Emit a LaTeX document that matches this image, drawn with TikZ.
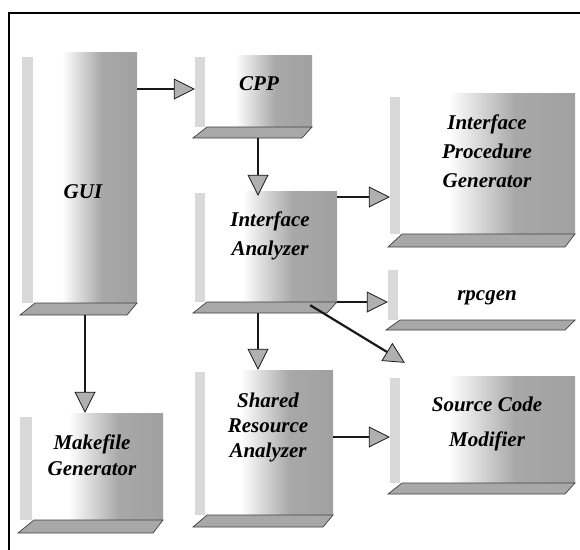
\documentclass[tikz,border=0pt]{standalone}
\usepackage{fontspec}
\setmainfont{Liberation Serif}
\usetikzlibrary{arrows.meta,fit,calc}
\pgfdeclarehorizontalshading{faceshade}{100bp}{color(0bp)=(white); color(25bp)=(white); color(39bp)=(white); color(58bp)=(gray!68); color(75bp)=(gray!74); color(100bp)=(gray!74)}
\pgfdeclarehorizontalshading{whiteshade}{100bp}{color(0bp)=(white); color(100bp)=(white)}
% name, x1, xs, x2, ytop, ystrip, yslabtop, yslabbot, shading
\newcommand\tdbox[9]{%
  \fill[stripfill] (#2,#6) rectangle (#3,#7);
  \shade[shading=#9] (#3,#5) rectangle (#4,#7);
  \filldraw[slabfill] (#3+2,#7) -- (#4,#7) -- (#4-10,#8) -- (#2-2,#8) -- cycle;
  \node[fit={(#2,#5)(#4,#8)}, inner sep=0pt] (#1) {};
}
\tikzset{
  stripfill/.style={fill=gray!30},
  slabfill/.style={fill=gray!68, draw=black!75, line width=0.7pt},
  lbl/.style={font=\fontsize{21}{29}\selectfont\bfseries\itshape, align=center, text=black, inner sep=0pt},
  arr/.style={line width=2.2pt, draw=black!90, -{Triangle[length=21pt,width=21pt,fill=gray!62,line width=0.8pt]}},
}
\begin{document}
\begin{tikzpicture}[x=1pt,y=-1pt]
\useasboundingbox (0,0) rectangle (580,549);
% frame
\draw[line width=1.8pt] (9,560) -- (9,13) -- (590,13);
% boxes
\tdbox{gui}{22}{33}{137}{52}{57}{303}{315}{faceshade}
\tdbox{cpp}{195}{205}{312}{55}{57}{127}{138}{faceshade}
\tdbox{ipg}{390}{400}{575}{93}{97}{234}{247}{faceshade}
\tdbox{ia}{195}{205}{337}{191}{193}{302}{313}{faceshade}
\tdbox{rpc}{388}{398}{575}{267}{270}{320}{330}{whiteshade}
\tdbox{scm}{390}{400}{575}{376}{378}{483}{494}{faceshade}
\tdbox{sra}{195}{205}{333}{370}{372}{515}{527}{faceshade}
\tdbox{mk}{20}{32}{163}{413}{417}{520}{533}{faceshade}
% labels
\node[lbl] (guit) at (83,192) {GUI};
\node[lbl] (cppt) at (259,84) {CPP};
\node[lbl] (ipgt) at (487,151.5) {Interface\\Procedure\\Generator};
\node[lbl] (iat) at (270,236) {Interface\\Analyzer};
\node[lbl] (rpct) at (487,298) {rpcgen};
\node[lbl] (scmt) at (487,423.5) {Source Code\\[6pt]Modifier};
\node[lbl] (srat) at (268,427) {Shared\\[-4pt]Resource\\[-4pt]Analyzer};
\node[lbl] (mkt) at (92,455) {Makefile\\[-3pt]Generator};
% connectors
\draw[arr] (gui.east |- 0,89) -- (cpp.west |- 0,89);
\draw[arr, shorten >=-5pt] (cpp.south -| 258,0) -- (ia.north -| 258,0);
\draw[arr] (ia.east |- 0,197) -- (ipg.west |- 0,197);
\draw[arr] (ia.east |- 0,302) -- (rpc.west |- 0,302);
\draw[arr] ($(ia.south east)+(-27,-8)$) -- ($(scm.north west)+(15,-13)$);
\draw[arr] (gui.south -| 85,0) -- (mk.north -| 85,0);
\draw[arr] (ia.south -| 258,0) -- (sra.north -| 258,0);
\draw[arr] (sra.east |- 0,437) -- (scm.west |- 0,437);
\end{tikzpicture}
\end{document}
